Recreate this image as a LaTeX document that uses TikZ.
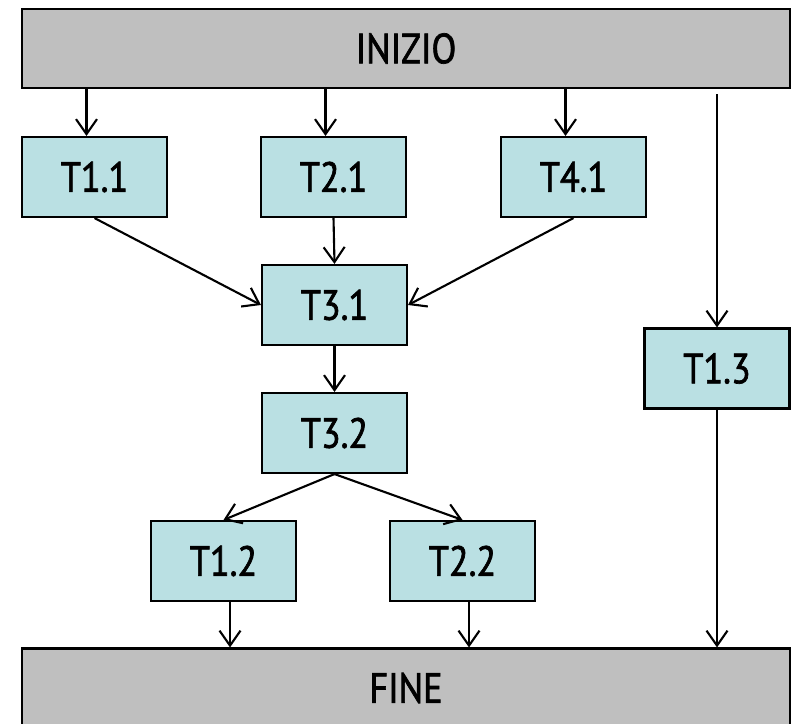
\documentclass[tikz,border=0pt]{standalone}
\usepackage{fontspec}
\setmainfont[FakeStretch=0.86,FakeBold=1.6]{PT Sans}
\usetikzlibrary{arrows.meta,calc}
\definecolor{fasegray}{HTML}{BFBFBF}
\definecolor{taskblue}{HTML}{BAE0E3}

\begin{document}
\begin{tikzpicture}[x=0.02cm,y=-0.02cm,
    line width=1.2pt,
    fase/.style={draw,fill=fasegray,minimum width=15.36cm,minimum height=1.58cm,inner sep=0pt,font=\fontsize{24}{28}\selectfont},
    task/.style={draw,fill=taskblue,minimum width=2.9cm,minimum height=1.6cm,inner sep=0pt,font=\fontsize{24}{28}\selectfont},
    freccia/.style={-{Straight Barb[length=0.3cm,width=0.42cm,line width=1.2pt]}}]
    \useasboundingbox (0,0) rectangle (793,723);
    \node[fase] (inizio) at (406,48.5) {INIZIO};
    \node[fase] (fine)   at (406,688)  {FINE};
    \node[task] (t11) at (94.5,177)  {T1.1};
    \node[task] (t21) at (333.5,177) {T2.1};
    \node[task] (t41) at (573.5,177) {T4.1};
    \node[task] (t31) at (334.5,305) {T3.1};
    \node[task] (t32) at (334.5,433) {T3.2};
    \node[task] (t12) at (223.5,561) {T1.2};
    \node[task] (t22) at (462.5,561) {T2.2};
    \node[task] (t13) at (717,368.5) {T1.3};
    % punti di attacco spostati
    \coordinate (in11) at ($(t11.north)+(-8,0)$);
    \coordinate (in21) at ($(t21.north)+(-8,0)$);
    \coordinate (in41) at ($(t41.north)+(-8,0)$);
    \coordinate (out12) at ($(t12.south)+(6.5,0)$);
    \coordinate (out22) at ($(t22.south)+(6.5,0)$);
    % dall'inizio
    \draw[freccia] (in11 |- inizio.south) -- (in11);
    \draw[freccia] (in21 |- inizio.south) -- (in21);
    \draw[freccia] (in41 |- inizio.south) -- (in41);
    \draw[freccia,shorten <=0.1cm] (t13.north |- inizio.south) -- (t13.north);
    % intermedie
    \draw[freccia] (t11.south) -- (t31.west);
    \draw[freccia] (t21.south) -- (t31.north);
    \draw[freccia] (t41.south) -- (t31.east);
    \draw[freccia] (t31.south) -- (t32.north);
    \draw[freccia] (t32.south) -- (t12.north);
    \draw[freccia] (t32.south) -- (t22.north);
    % alla fine
    \draw[freccia] (out12) -- (out12 |- fine.north);
    \draw[freccia] (out22) -- (out22 |- fine.north);
    \draw[freccia] (t13.south) -- (t13.south |- fine.north);
\end{tikzpicture}
\end{document}
